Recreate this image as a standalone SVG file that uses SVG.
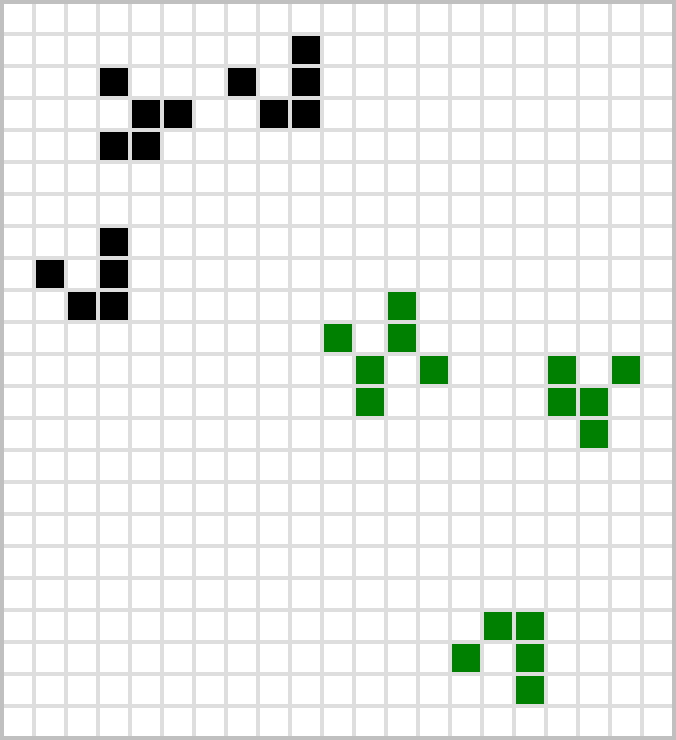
<svg xmlns="http://www.w3.org/2000/svg" width="676" height="740" viewBox="0 0 676 740">
<style>
.b{fill:#000000}
.g{fill:#008000}
</style>
<defs>
<pattern id="grid" x="0" y="0" width="32" height="32" patternUnits="userSpaceOnUse">
<rect x="0" y="0" width="32" height="32" fill="#dedede"/>
<rect x="4" y="4" width="28" height="28" fill="#ffffff"/>
</pattern>
</defs>
<rect x="0" y="0" width="676" height="740" fill="url(#grid)"/>
<rect x="2" y="2" width="672" height="736" fill="none" stroke="#c0c0c0" stroke-width="4"/>
<g id="black-cells">
<rect class="b" x="292" y="36" width="28" height="28"/>
<rect class="b" x="100" y="68" width="28" height="28"/>
<rect class="b" x="228" y="68" width="28" height="28"/>
<rect class="b" x="292" y="68" width="28" height="28"/>
<rect class="b" x="132" y="100" width="28" height="28"/>
<rect class="b" x="164" y="100" width="28" height="28"/>
<rect class="b" x="260" y="100" width="28" height="28"/>
<rect class="b" x="292" y="100" width="28" height="28"/>
<rect class="b" x="100" y="132" width="28" height="28"/>
<rect class="b" x="132" y="132" width="28" height="28"/>
<rect class="b" x="100" y="228" width="28" height="28"/>
<rect class="b" x="36" y="260" width="28" height="28"/>
<rect class="b" x="100" y="260" width="28" height="28"/>
<rect class="b" x="68" y="292" width="28" height="28"/>
<rect class="b" x="100" y="292" width="28" height="28"/>
</g>
<g id="green-cells">
<rect class="g" x="388" y="292" width="28" height="28"/>
<rect class="g" x="324" y="324" width="28" height="28"/>
<rect class="g" x="388" y="324" width="28" height="28"/>
<rect class="g" x="356" y="356" width="28" height="28"/>
<rect class="g" x="420" y="356" width="28" height="28"/>
<rect class="g" x="548" y="356" width="28" height="28"/>
<rect class="g" x="612" y="356" width="28" height="28"/>
<rect class="g" x="356" y="388" width="28" height="28"/>
<rect class="g" x="548" y="388" width="28" height="28"/>
<rect class="g" x="580" y="388" width="28" height="28"/>
<rect class="g" x="580" y="420" width="28" height="28"/>
<rect class="g" x="484" y="612" width="28" height="28"/>
<rect class="g" x="516" y="612" width="28" height="28"/>
<rect class="g" x="452" y="644" width="28" height="28"/>
<rect class="g" x="516" y="644" width="28" height="28"/>
<rect class="g" x="516" y="676" width="28" height="28"/>
</g>
</svg>
